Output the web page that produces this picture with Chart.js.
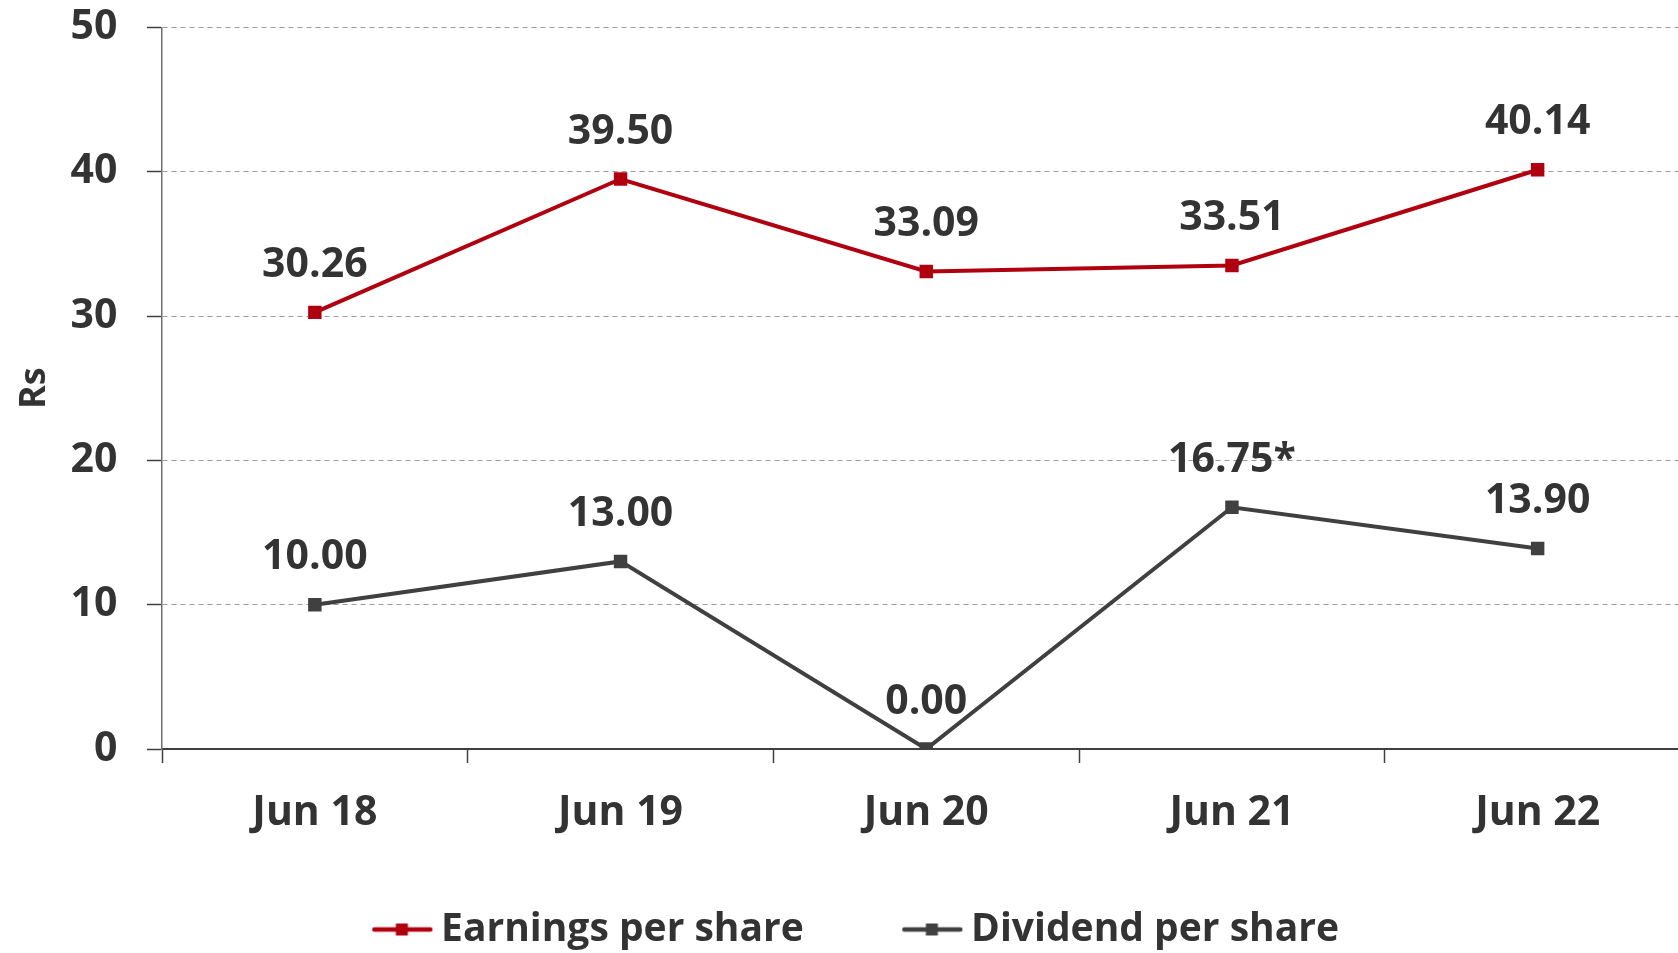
<!DOCTYPE html>
<html><head><meta charset="utf-8">
<script src="https://cdn.jsdelivr.net/npm/chart.js@4.4.1/dist/chart.umd.min.js"></script>
<style>html,body{margin:0;padding:0;overflow:hidden;background:#fff;}canvas{display:block;}</style>
</head><body>
<canvas id="c" width="1700" height="959"></canvas>
<script>
const categories = ['Jun 18', 'Jun 19', 'Jun 20', 'Jun 21', 'Jun 22'];
const epsValues = [30.26, 39.50, 33.09, 33.51, 40.14];
const dpsValues = [10.00, 13.00, 0.00, 16.75, 13.90];
const epsNotes = ['', '', '', '', ''];
const dpsNotes = ['', '', '', '*', ''];
const seriesNames = ['Earnings per share', 'Dividend per share'];
const yMin = 0, yMax = 50, yStep = 10;
const yTitle = 'Rs';

const RED = '#B0000F';
const GREY = '#404040';
const TEXT = '#333333';
const FONT = "'Open Sans'";
const WEIGHT = 700;
const TICK_SIZE = 41;
const LEGEND_SIZE = 39;

function legendMarker(color) {
  const c = document.createElement('canvas');
  c.width = 160; c.height = 16;
  const x = c.getContext('2d');
  x.strokeStyle = color; x.lineWidth = 4.5; x.lineCap = 'round';
  x.beginPath(); x.moveTo(101, 8); x.lineTo(157, 8); x.stroke();
  x.fillStyle = color; x.fillRect(122.5, 2, 12, 12);
  return c;
}
const markers = [legendMarker(RED), legendMarker(GREY)];

// legend spacing chosen so the two entries sit where the original ones do
function legendSetup() {
  const m = document.createElement('canvas').getContext('2d');
  m.font = WEIGHT + ' ' + LEGEND_SIZE + 'px ' + FONT;
  const t1 = m.measureText(seriesNames[0]).width;
  const gap = Math.max(2, 374 - t1);
  let second = seriesNames[1];
  while (t1 + m.measureText(second).width < 811 - gap) second += ' ';
  return { names: [seriesNames[0], second], gap };
}

const valueLabels = {
  id: 'valueLabels',
  afterDatasetsDraw(chart) {
    const ctx = chart.ctx;
    ctx.save();
    ctx.font = WEIGHT + ' ' + TICK_SIZE + 'px ' + FONT;
    ctx.fillStyle = TEXT;
    ctx.textAlign = 'center';
    ctx.textBaseline = 'middle';
    chart.data.datasets.forEach((ds, di) => {
      const meta = chart.getDatasetMeta(di);
      meta.data.forEach((pt, i) => {
        ctx.fillText(ds.data[i].toFixed(2) + ds.notes[i], pt.x, pt.y - 47);
      });
    });
    ctx.restore();
  }
};

document.fonts.load(WEIGHT + ' 42px ' + FONT).then(draw, draw);

function draw() {
const lg = legendSetup();
const canvas = document.getElementById('c');
const H = canvas.height;
const legendH = LEGEND_SIZE + lg.gap + 10;
const xAxisH = H - 749 - legendH;
new Chart(canvas, {
  type: 'line',
  data: {
    labels: categories,
    datasets: [
      { label: lg.names[0], data: epsValues, notes: epsNotes, borderColor: RED, backgroundColor: RED,
        borderWidth: 4, pointStyle: 'rect', pointRadius: 9.5, pointBorderWidth: 0, tension: 0 },
      { label: lg.names[1], data: dpsValues, notes: dpsNotes, borderColor: GREY, backgroundColor: GREY,
        borderWidth: 4, pointStyle: 'rect', pointRadius: 9.5, pointBorderWidth: 0, tension: 0 }
    ]
  },
  options: {
    responsive: false,
    animation: false,
    layout: { padding: { top: 27.5, right: 5, bottom: 0, left: 0 } },
    plugins: {
      tooltip: { enabled: false },
      legend: {
        position: 'bottom',
        labels: {
          font: { family: FONT, weight: WEIGHT, size: LEGEND_SIZE },
          color: TEXT,
          usePointStyle: true,
          pointStyleWidth: 156 - LEGEND_SIZE / 2,
          padding: lg.gap,
          generateLabels(chart) {
            const items = Chart.defaults.plugins.legend.labels.generateLabels(chart);
            items.forEach((it, i) => { it.pointStyle = markers[i]; });
            return items;
          }
        }
      }
    },
    scales: {
      x: {
        type: 'category',
        offset: true,
        grid: { display: true, drawOnChartArea: false, offset: true, tickLength: 14, tickColor: GREY, tickWidth: 1.5 },
        border: { display: true, color: GREY, width: 2 },
        ticks: { font: { family: FONT, weight: WEIGHT, size: TICK_SIZE }, color: TEXT, padding: 26, maxRotation: 0 },
        afterFit(s) { s.height = xAxisH; s.paddingLeft = 0; s.paddingRight = 0; }
      },
      y: {
        min: yMin, max: yMax,
        ticks: { stepSize: yStep, font: { family: FONT, weight: WEIGHT, size: TICK_SIZE }, color: TEXT, padding: 29.5 },
        grid: { color: '#9a9a9a', lineWidth: 1, tickLength: 15, tickColor: GREY, tickWidth: 1.5 },
        border: { display: true, color: '#707070', width: 1.5, dash: [5, 4] },
        title: { display: true, text: yTitle, font: { family: FONT, weight: WEIGHT, size: 36 }, color: TEXT, padding: { top: 13, bottom: 0 } },
        afterFit(s) { s.width = 162; s.paddingTop = 0; s.paddingBottom = 0; }
      }
    }
  },
  plugins: [valueLabels]
});
}
</script>
</body></html>
